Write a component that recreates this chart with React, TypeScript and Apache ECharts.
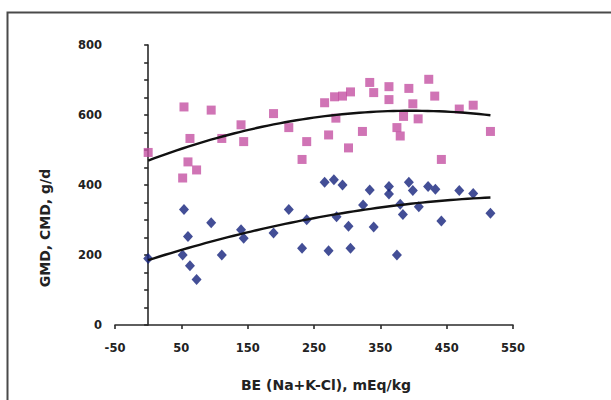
import React, { useEffect, useRef } from "react";
import * as echarts from "echarts";

// GMD (pink squares)
const gmdX = [0, 54, 95, 63, 60, 73, 52, 111, 140, 144, 189, 212, 239, 232, 266, 281, 293, 305, 283, 272, 302, 323, 334, 340, 363, 363, 393, 399, 385, 375, 380, 407, 423, 432, 442, 469, 490, 516];
const gmdY = [493, 623, 614, 533, 466, 443, 420, 533, 572, 524, 604, 564, 524, 473, 635, 652, 654, 666, 591, 543, 506, 553, 693, 664, 681, 644, 676, 632, 596, 564, 540, 589, 702, 654, 473, 617, 628, 553];

// CMD (blue diamonds)
const cmdX = [0, 54, 60, 52, 63, 73, 95, 111, 140, 144, 189, 212, 239, 232, 266, 280, 293, 284, 302, 272, 305, 324, 334, 340, 363, 363, 380, 384, 375, 393, 399, 408, 422, 433, 442, 469, 490, 516];
const cmdY = [190, 330, 253, 200, 169, 130, 292, 200, 272, 248, 263, 330, 301, 219, 408, 415, 400, 309, 282, 212, 219, 343, 386, 280, 396, 374, 345, 316, 200, 408, 384, 338, 396, 388, 297, 384, 376, 319];

const xTicks = { min: -50, max: 550, interval: 100 };
const yTicks = { min: 0, max: 800, interval: 50, labelEvery: 200 };

function quadFit(xs: number[], ys: number[]) {
  // least-squares y = a + b x + c x^2
  const s = [0, 0, 0, 0, 0];
  const t = [0, 0, 0];
  for (let i = 0; i < xs.length; i++) {
    const x = xs[i], y = ys[i];
    let p = 1;
    for (let k = 0; k < 5; k++) { s[k] += p; if (k < 3) t[k] += y * p; p *= x; }
  }
  const M = [
    [s[0], s[1], s[2], t[0]],
    [s[1], s[2], s[3], t[1]],
    [s[2], s[3], s[4], t[2]],
  ];
  for (let i = 0; i < 3; i++) {
    for (let j = i + 1; j < 3; j++) {
      const f = M[j][i] / M[i][i];
      for (let k = i; k < 4; k++) M[j][k] -= f * M[i][k];
    }
  }
  const c = [0, 0, 0];
  for (let i = 2; i >= 0; i--) {
    let v = M[i][3];
    for (let k = i + 1; k < 3; k++) v -= M[i][k] * c[k];
    c[i] = v / M[i][i];
  }
  return c;
}

function trend(xs: number[], ys: number[]) {
  const c = quadFit(xs, ys);
  const lo = Math.min(...xs), hi = Math.max(...xs);
  const pts: number[][] = [];
  const n = 60;
  for (let i = 0; i <= n; i++) {
    const x = lo + ((hi - lo) * i) / n;
    pts.push([x, c[0] + c[1] * x + c[2] * x * x]);
  }
  return pts;
}

const FONT = "DejaVu Sans";

export default function App() {
  const ref = useRef<HTMLDivElement>(null);
  useEffect(() => {
    document.body.style.margin = "0";
    const chart = echarts.init(ref.current!, null, { renderer: "svg" });
    chart.setOption({
      animation: false,
      backgroundColor: "#ffffff",
      grid: { left: 115, right: 98, top: 45, bottom: 75 },
      xAxis: {
        type: "value",
        min: xTicks.min,
        max: xTicks.max,
        interval: xTicks.interval,
        splitLine: { show: false },
        axisLine: { show: true, onZero: false, lineStyle: { color: "#2a2a2a", width: 1.6 } },
        axisTick: { show: true, length: 4, lineStyle: { color: "#2a2a2a", width: 1.6 } },
        axisLabel: { color: "#222", fontFamily: FONT, fontWeight: "bold", fontSize: 11.5, margin: 17 },
      },
      yAxis: {
        type: "value",
        min: yTicks.min,
        max: yTicks.max,
        interval: yTicks.interval,
        splitLine: { show: false },
        axisLine: { show: true, lineStyle: { color: "#2a2a2a", width: 1.6 } },
        axisTick: { show: true, length: 4, lineStyle: { color: "#2a2a2a", width: 1.6 } },
        axisLabel: {
          color: "#222",
          fontFamily: FONT,
          fontWeight: "bold",
          fontSize: 11.5,
          margin: 13,
          formatter: (v: number) => (v % yTicks.labelEvery === 0 ? String(v) : ""),
        },
      },
      graphic: [
        {
          type: "rect",
          shape: { x: 7.5, y: 12.5, width: 700, height: 500 },
          style: { fill: "none", stroke: "#4a4a4a", lineWidth: 2 },
          silent: true,
        },
        {
          type: "text",
          x: 45,
          y: 228,
          rotation: Math.PI / 2,
          style: {
            text: "GMD, CMD, g/d",
            fontFamily: FONT,
            fontWeight: "bold",
            fontSize: 14,
            fill: "#222",
            align: "center",
            verticalAlign: "middle",
          },
        },
        {
          type: "text",
          x: 326,
          y: 385,
          style: {
            text: "BE (Na+K-Cl), mEq/kg",
            fontFamily: FONT,
            fontWeight: "bold",
            fontSize: 14,
            fill: "#222",
            align: "center",
            verticalAlign: "middle",
          },
        },
      ],
      series: [
        {
          name: "GMD",
          type: "scatter",
          symbol: "rect",
          symbolSize: 9,
          itemStyle: { color: "#c451a3" },
          data: gmdX.map((x, i) => [x, gmdY[i]]),
        },
        {
          name: "CMD",
          type: "scatter",
          symbol: "diamond",
          symbolSize: [10, 11],
          itemStyle: { color: "#14227c" },
          data: cmdX.map((x, i) => [x, cmdY[i]]),
        },
        {
          name: "GMD trend",
          type: "line",
          showSymbol: false,
          smooth: false,
          lineStyle: { color: "#111", width: 2.4 },
          data: trend(gmdX, gmdY),
        },
        {
          name: "CMD trend",
          type: "line",
          showSymbol: false,
          smooth: false,
          lineStyle: { color: "#111", width: 2.4 },
          data: trend(cmdX, cmdY),
        },
      ],
    });
    return () => chart.dispose();
  }, []);
  return <div ref={ref} style={{ width: 611, height: 400 }} />;
}
